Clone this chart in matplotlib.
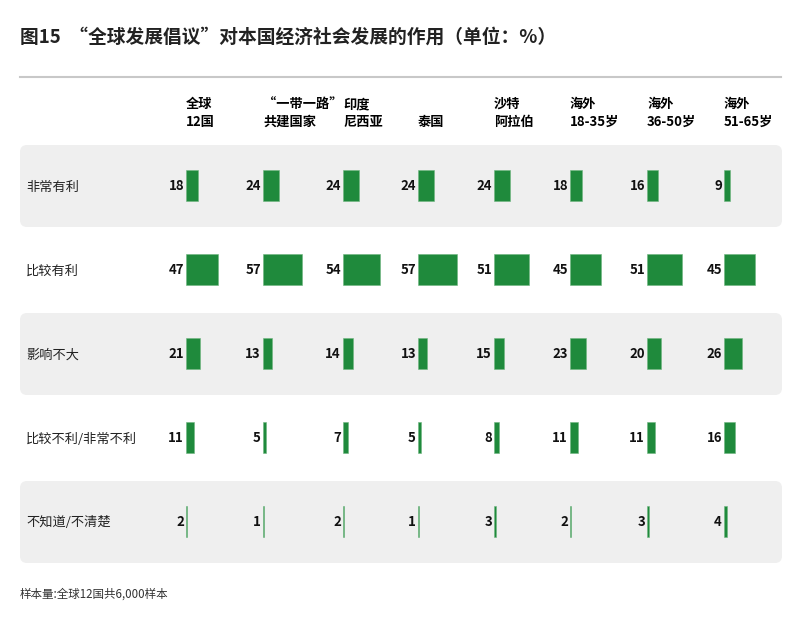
import matplotlib
matplotlib.use('Agg')
import matplotlib.pyplot as plt
from matplotlib.patches import FancyBboxPatch

plt.rcParams['font.family'] = ['Noto Sans CJK SC', 'DejaVu Sans']

title = "图15  “全球发展倡议”对本国经济社会发展的作用（单位：%）"
columns = ["全球\n12国", "“一带一路”\n共建国家", "印度\n尼西亚", "泰国", "沙特\n阿拉伯",
           "海外\n18-35岁", "海外\n36-50岁", "海外\n51-65岁"]
rows = ["非常有利", "比较有利", "影响不大", "比较不利/非常不利", "不知道/不清楚"]
v_very = [18, 24, 24, 24, 24, 18, 16, 9]
v_fair = [47, 57, 54, 57, 51, 45, 51, 45]
v_none = [21, 13, 14, 13, 15, 23, 20, 26]
v_bad = [11, 5, 7, 5, 8, 11, 11, 16]
v_dk = [2, 1, 2, 1, 3, 2, 3, 4]
values = [v_very, v_fair, v_none, v_bad, v_dk]
note = "样本量:全球12国共6,000样本"

green = '#1f8a3c'
col_x = [186, 263, 343, 418, 494, 570, 647, 724]
row_y = [185, 269, 353, 437, 521]
scale = 0.685

fig = plt.figure(figsize=(8, 6.3), dpi=100)
ax = fig.add_axes([0, 0, 1, 1])
ax.set_xlim(0, 800)
ax.set_ylim(630, 0)
ax.axis('off')

ax.text(20, 37, title, fontsize=13.5, fontweight='bold', va='center', ha='left', color='#222222')
ax.plot([20, 781], [77, 77], color='#c8c8c8', lw=1.5)

for j, c in enumerate(columns):
    lines = c.split('\n')
    if len(lines) == 1:
        ax.text(col_x[j], 122, lines[0], fontsize=9.5, fontweight='bold', va='center', ha='left')
    else:
        ax.text(col_x[j], 104, lines[0], fontsize=9.5, fontweight='bold', va='center', ha='left')
        ax.text(col_x[j], 122, lines[1], fontsize=9.5, fontweight='bold', va='center', ha='left')

for i, r in enumerate(rows):
    y = row_y[i]
    if i % 2 == 0:
        ax.add_patch(FancyBboxPatch((20, y - 40), 762, 82, boxstyle='round,pad=0,rounding_size=7',
                                    facecolor='#efefef', edgecolor='none', zorder=0))
    ax.text(26, y + 2, r, fontsize=9.5, va='center', ha='left', color='#222222')
    ax.barh([y] * 8, [v * scale for v in values[i]], left=col_x, height=31, color=green,
            edgecolor='#6fb57f', linewidth=0.4, zorder=2)
    for j, v in enumerate(values[i]):
        ax.text(col_x[j] - 2, y + 1, str(v), fontsize=9.5, fontweight='bold', va='center', ha='right',
                color='#111111')

ax.text(20, 594, note, fontsize=8.3, va='center', ha='left', color='#333333')

fig.savefig('out.png', dpi=100)
